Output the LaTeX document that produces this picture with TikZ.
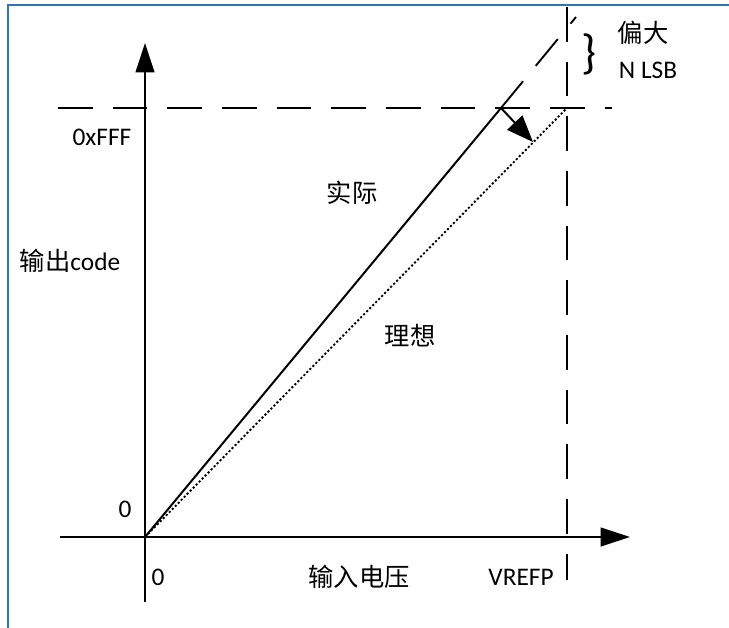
\documentclass[tikz,border=0pt]{standalone}
\usepackage{fontspec}
\setmainfont{Carlito}
\newfontfamily\cjk{Noto Sans CJK SC}
\usetikzlibrary{arrows.meta}
\definecolor{framecol}{RGB}{46,117,182}

\begin{document}
\begin{tikzpicture}[x=0.75pt,y=-0.75pt,font=\fontsize{19}{22}\selectfont,
                axis/.style={draw,line width=1.5pt,-{Triangle[length=22pt,width=14pt]}},
                guide/.style={draw,line width=1.4pt,dash pattern=on 26pt off 15pt},
                ideal/.style={draw,line width=1.4pt,dash pattern=on 1.6pt off 1.6pt},
                offsetarrow/.style={draw,line width=1.5pt,-{Triangle[length=20pt,width=15.5pt]}},
                label/.style={inner sep=0pt}
            ]
            \useasboundingbox (0,0) rectangle (729,628);
            \draw[framecol,line width=1.5pt] (8,628) -- (8,5) -- (729,5);
            % axes
            \coordinate (o) at (145,537);
            \coordinate (ybot) at (145,602);
            \coordinate (ytip) at (145,43);
            \coordinate (xleft) at (60,537);
            \coordinate (xtip) at (630,537);
            \path[axis] (ybot) -- (ytip);
            \path[axis] (xleft) -- (xtip);
            % full scale guides
            \coordinate (hl) at (58,108);
            \coordinate (hr) at (612,108);
            \coordinate (vt) at (567,7);
            \coordinate (vb) at (567,580);
            \path[guide] (hl) -- (hr);
            \path[guide] (vt) -- (vb);
            % transfer lines
            \coordinate (act) at (501,108);
            \coordinate (actext) at (576,17);
            \coordinate (idl) at (567,108);
            \coordinate (shtip) at (533,142);
            \draw[line width=1.5pt] (o) -- (act);
            \path[guide] (act) -- (actext);
            \path[ideal] (o) -- (idl);
            \path[offsetarrow] (act) -- (shtip);
            % labels
            \node[label] (fff) at (102,137) {0xFFF};
            \node[label] (outlbl) at (70,261) {{\cjk 输出}code};
            \node[label] (actlbl) at (352,193) {\cjk 实际};
            \node[label] (idllbl) at (410,336) {\cjk 理想};
            \node[label] (zy) at (125,509) {0};
            \node[label] (zx) at (158,577) {0};
            \node[label] (inlbl) at (359,577) {\cjk 输入电压};
            \node[label] (vref) at (521,577) {VREFP};
            \node[label] (big) at (643,33) {\cjk 偏大};
            \node[label] (nlsb) at (648,70) {N LSB};
            \node[label,font=\fontsize{36}{36}\selectfont] (brace) at (589,54) {\}};
        \end{tikzpicture}
\end{document}
